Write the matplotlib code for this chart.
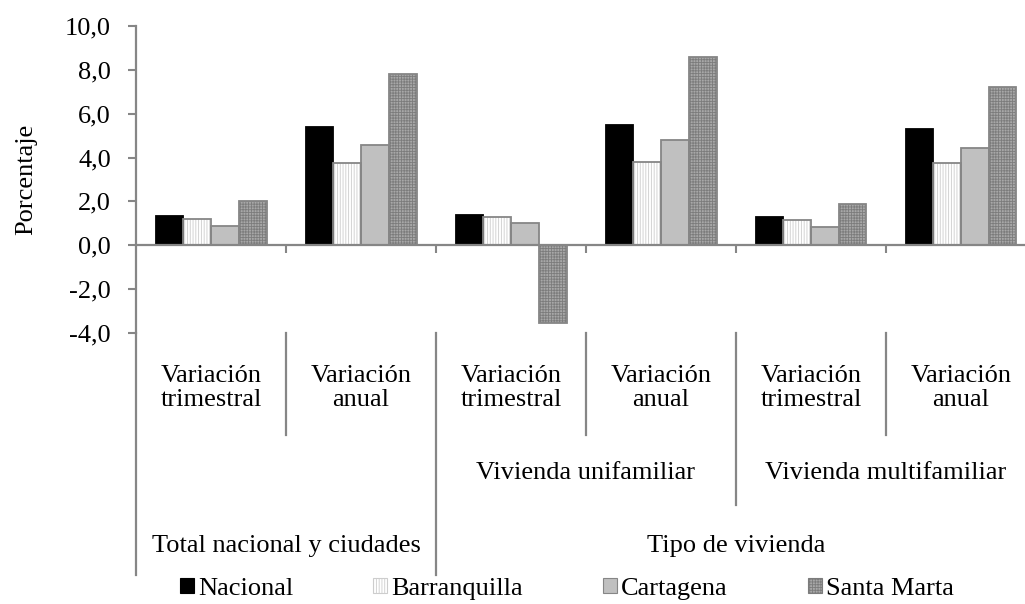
import numpy as np
import matplotlib
matplotlib.use("Agg")
import matplotlib.pyplot as plt
import matplotlib.patches as mpatches

plt.rcParams["font.family"] = ["Liberation Serif", "DejaVu Serif"]
plt.rcParams["hatch.linewidth"] = 0.6

# categories (level 1, 2, 3 of the x axis)
PERIODS = ["Variación\ntrimestral", "Variación\nanual"] * 3
SUBGROUPS = ["Vivienda unifamiliar", "Vivienda multifamiliar"]
GROUPS = ["Total nacional y ciudades", "Tipo de vivienda"]
SERIES = ["Nacional", "Barranquilla", "Cartagena", "Santa Marta"]

nacional = [1.33, 5.38, 1.38, 5.47, 1.29, 5.30]
barranquilla = [1.18, 3.74, 1.29, 3.79, 1.15, 3.73]
cartagena = [0.90, 4.58, 1.00, 4.82, 0.82, 4.42]
santa_marta = [2.01, 7.79, -3.53, 8.59, 1.88, 7.20]

YTICKS = [-4, -2, 0, 2, 4, 6, 8, 10]

GRAY = "#868686"
# (face, hatch, hatch colour, edge colour) per series
STYLES = [
    ("#000000", None, "#000000", "#000000"),
    ("#ffffff", "||||||", "#cdcdcd", GRAY),
    ("#c0c0c0", None, "#c0c0c0", GRAY),
    ("#a8a8a8", "++++++", "#7c7c7c", GRAY),
]

fig = plt.figure(figsize=(10.25, 6.04), dpi=100)
ax = fig.add_axes([136 / 1025, 1 - 333 / 604, 900 / 1025, 307 / 604])

x = np.arange(len(PERIODS))
w = 0.185
handles = []
for j, (vals, name) in enumerate(zip([nacional, barranquilla, cartagena, santa_marta], SERIES)):
    face, hatch, hcol, ecol = STYLES[j]
    pos = x + (j - 1.5) * w
    ax.bar(pos, vals, w, color=face, hatch=hatch, edgecolor=hcol, lw=0, zorder=2)
    ax.bar(pos, vals, w, fill=False, edgecolor=ecol, lw=1.3, zorder=3)
    handles.append(mpatches.Patch(facecolor=face, hatch=hatch, edgecolor=ecol if hatch is None else hcol,
                                  lw=0.8, label=name))

ax.set_xlim(-0.5, 5.5)
ax.set_ylim(-4, 10)
ax.set_yticks(YTICKS)
ax.set_yticklabels([f"{v:.1f}".replace(".", ",") for v in YTICKS], fontsize=19)
ax.set_ylabel("Porcentaje", fontsize=19, labelpad=20)

for s in ["top", "right"]:
    ax.spines[s].set_visible(False)
ax.spines["left"].set_color(GRAY)
ax.spines["left"].set_linewidth(1.6)
ax.spines["bottom"].set_position(("data", 0))
ax.spines["bottom"].set_color(GRAY)
ax.spines["bottom"].set_linewidth(1.6)
ax.spines["bottom"].set_zorder(4)
ax.tick_params(axis="y", direction="out", length=6, width=1.5, color=GRAY, pad=12)
ax.set_xticks(np.arange(0.5, 5, 1.0))
ax.set_xticklabels([])
ax.tick_params(axis="x", direction="out", length=6, width=1.5, color=GRAY)

# multi-level category labels under the plot
tr = ax.get_xaxis_transform()
for i, lab in enumerate(PERIODS):
    ax.text(i, -0.179, lab, transform=tr, ha="center", va="center", fontsize=19, linespacing=1.1)
for k, lab in enumerate(SUBGROUPS):
    ax.text(2.5 + 2 * k, -0.456, lab, transform=tr, ha="center", va="center", fontsize=19)
ax.text(0.5, -0.694, GROUPS[0], transform=tr, ha="center", va="center", fontsize=19)
ax.text(3.5, -0.694, GROUPS[1], transform=tr, ha="center", va="center", fontsize=19)

for b in [0.5, 2.5, 4.5]:
    ax.plot([b, b], [0, -0.332], transform=tr, color=GRAY, lw=1.6, clip_on=False)
ax.plot([3.5, 3.5], [0, -0.560], transform=tr, color=GRAY, lw=1.6, clip_on=False)
for b in [-0.5, 1.5]:
    ax.plot([b, b], [0, -0.788], transform=tr, color=GRAY, lw=1.6, clip_on=False)

fig.legend(handles=handles, loc="center", bbox_to_anchor=(0.553, 1 - 589 / 604), ncol=4,
           frameon=False, fontsize=19, handlelength=0.52, handleheight=0.52,
           handletextpad=0.15, columnspacing=3.05)

fig.savefig("out.png", dpi=100)
